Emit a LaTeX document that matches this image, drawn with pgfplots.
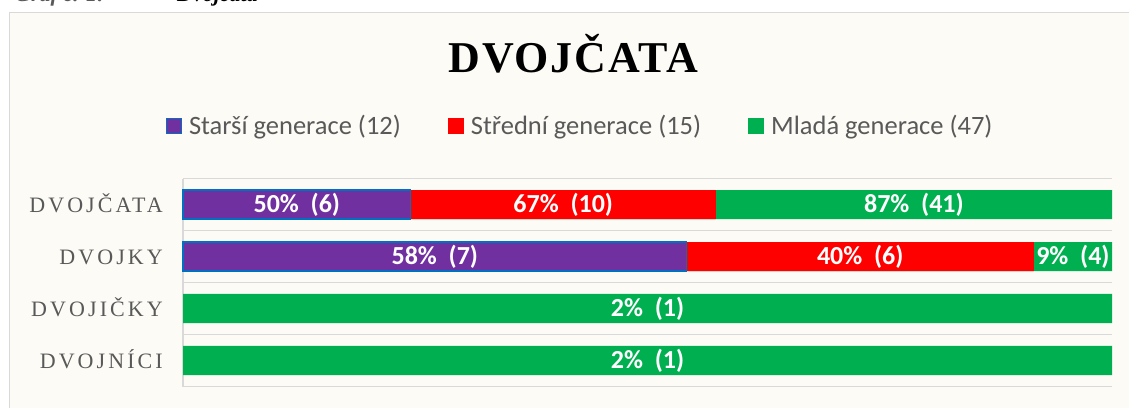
\documentclass[border=0pt]{standalone}
\usepackage{pgfplots}
\pgfplotsset{compat=1.18}
\usepackage{fontspec}
\setmainfont{Liberation Serif}
\newfontfamily\carlito{Carlito}
\newfontfamily\tickfont[LetterSpace=14]{Liberation Serif}
\newfontfamily\titlefont[LetterSpace=4]{Liberation Serif}
\definecolor{cpurple}{HTML}{7030A0}
\definecolor{cred}{HTML}{FF0000}
\definecolor{cgreen}{HTML}{00B050}
\definecolor{cblue}{HTML}{0070C0}
\definecolor{ctext}{HTML}{595959}
\definecolor{cgrid}{HTML}{D9D9D9}
\definecolor{cbg}{HTML}{FCFBF6}
\begin{document}
\begin{tikzpicture}
\useasboundingbox (0,0) rectangle (1129bp,408bp);
\clip (0,0) rectangle (1129bp,408bp);
% partially visible caption above the chart frame
\node[anchor=base west, inner sep=0pt, text=ctext, font=\bfseries\itshape\fontsize{22bp}{26bp}\selectfont] at (15bp,406.5bp) {Graf č. 1:};
\node[anchor=base west, inner sep=0pt, font=\bfseries\itshape\fontsize{22bp}{26bp}\selectfont] at (177bp,406.5bp) {Dvojčata};
% chart area frame
\draw[draw=cgrid, line width=1.5bp, fill=cbg] (9.5bp,-10bp) rectangle (1140bp,395.5bp);
% title
\node[anchor=base, inner sep=0pt, font=\titlefont\bfseries\fontsize{44bp}{50bp}\selectfont] at (573.5bp,335bp) {DVOJČATA};
\begin{axis}[
  at={(183bp,21.5bp)}, anchor=south west,
  width=929bp, height=208bp, scale only axis,
  xmin=0, xmax=100, ymin=-0.5, ymax=3.5,
  axis line style={draw=none},
  ytick={0,1,2,3},
  yticklabels={DVOJNÍCI,DVOJIČKY,DVOJKY,DVOJČATA},
  yticklabel style={anchor=base east, inner sep=0pt, xshift=-20bp, yshift=-7.8bp,
    text=ctext, font=\tickfont\fontsize{22bp}{26bp}\selectfont},
  xtick={0}, xticklabels={}, xmajorgrids,
  minor ytick={-0.5,0.5,1.5,2.5,3.5}, yminorgrids,
  major tick length=0pt, minor tick length=0pt,
  major grid style={draw=cgrid, line width=1.5bp},
  minor grid style={draw=cgrid, line width=1.5bp},
  bar width=29bp,
  clip=false,
  reverse legend,
  legend columns=3,
  legend style={draw=none, fill=none, inner sep=0pt, outer sep=0pt,
    at={(-0.0183,1.2536)}, anchor=west,
    nodes={inner sep=0pt, text=ctext, font=\carlito\fontsize{26.5bp}{30bp}\selectfont},
    /tikz/every odd column/.append style={column sep=7bp},
    /tikz/every even column/.append style={column sep=47bp}},
]
% Mlada generace (green), full segment end = 100 % of each bar
\addplot[xbar, bar shift=0pt, fill=cgreen, draw=none,
  legend image code/.code={\fill[cgreen] (0bp,-8bp) rectangle (16bp,8bp);}]
  coordinates {(100,3) (100,2) (100,1) (100,0)};
\addlegendentry{Mladá generace (47)}
% Stredni generace (red), cumulative end of red segment
\addplot[xbar, bar shift=0pt, fill=cred, draw=none,
  legend image code/.code={\fill[cred] (0bp,-8bp) rectangle (16bp,8bp);}]
  coordinates {(57.353,3) (91.589,2)};
\addlegendentry{Střední generace (15)}
% Starsi generace (purple)
\addplot[xbar, bar shift=0pt, fill=cpurple, draw=cblue, line width=1.2bp,
  legend image code/.code={\draw[fill=cpurple, draw=cblue, line width=1.2bp] (0.6bp,-7.4bp) rectangle (15.4bp,7.4bp);}]
  coordinates {(24.510,3) (54.206,2)};
\addlegendentry{Starší generace (12)}
% data labels, centred in each segment
\addplot[only marks, mark=none, forget plot,
  point meta=explicit symbolic,
  nodes near coords, nodes near coords align={center},
  nodes near coords style={anchor=center, inner sep=0pt, text=white,
    font=\carlito\bfseries\fontsize{26bp}{30bp}\selectfont}]
  coordinates {
   (12.255,3) [50\%~~(6)]
   (40.931,3) [67\%~~(10)]
   (78.676,3) [87\%~~(41)]
   (27.103,2) [58\%~~(7)]
   (72.897,2) [40\%~~(6)]
   (95.794,2) [9\%~~(4)]
   (50,1) [2\%~~(1)]
   (50,0) [2\%~~(1)]
  };
\end{axis}
\end{tikzpicture}
\end{document}
